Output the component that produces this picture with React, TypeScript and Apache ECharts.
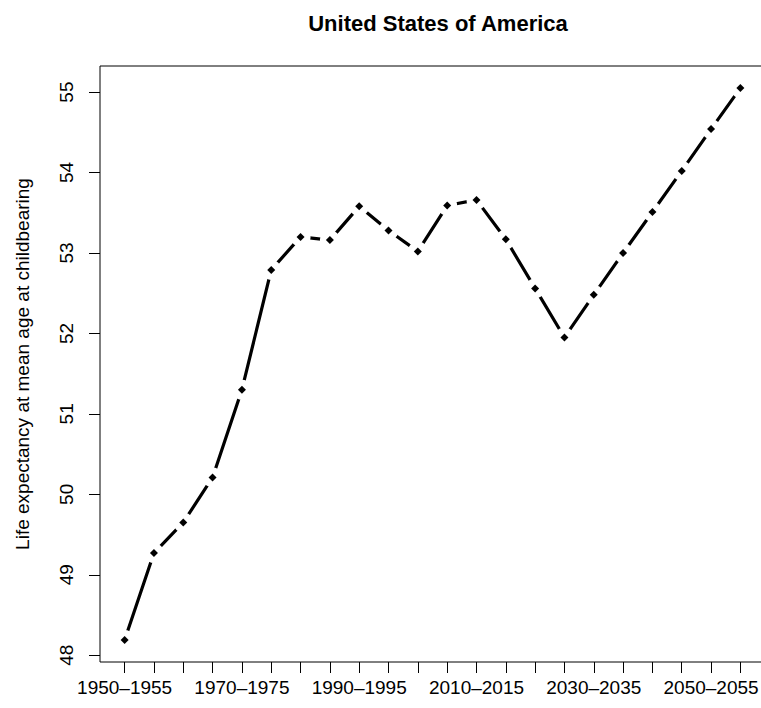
import React, { useEffect, useRef } from "react";
import * as echarts from "echarts";

const periods = [
  "1950–1955", "1955–1960", "1960–1965", "1965–1970", "1970–1975", "1975–1980",
  "1980–1985", "1985–1990", "1990–1995", "1995–2000", "2000–2005", "2005–2010",
  "2010–2015", "2015–2020", "2020–2025", "2025–2030", "2030–2035", "2035–2040",
  "2040–2045", "2045–2050", "2050–2055", "2055–2060",
];
const lifeExpectancy = [
  48.19, 49.27, 49.65, 50.21, 51.30, 52.79, 53.20, 53.16, 53.58, 53.28, 53.02,
  53.59, 53.66, 53.17, 52.56, 51.95, 52.48, 53.00, 53.51, 54.02, 54.54, 55.05,
];
const yTicks = [48, 49, 50, 51, 52, 53, 54, 55];
const xLabelIndices = [0, 4, 8, 12, 16, 20];

const FONT = "'Liberation Sans', Arial, Helvetica, sans-serif";

export default function App() {
  const ref = useRef<HTMLDivElement>(null);
  useEffect(() => {
    if (!ref.current) return;
    const chart = echarts.init(ref.current, null, { renderer: "svg" });
    const pts = lifeExpectancy.map((v, i) => [i + 1, v]);
    const n = periods.length;
    const pad = (n - 1) * 0.04;
    const yMinData = Math.min(...lifeExpectancy);
    const yMaxData = Math.max(...lifeExpectancy);
    const yPad = (yMaxData - yMinData) * 0.04;
    chart.setOption({
      animation: false,
      backgroundColor: "#ffffff",
      title: {
        text: "United States of America",
        left: 433,
        textAlign: "center",
        top: 7,
        textStyle: { fontFamily: FONT, fontSize: 22, fontWeight: "bold", color: "#000" },
      },
      grid: {
        left: 100,
        top: 66,
        right: 5,
        bottom: 46,
        show: true,
        borderColor: "#000",
        borderWidth: 1,
        backgroundColor: "transparent",
      },
      xAxis: {
        type: "value",
        min: 1 - pad,
        max: n + pad,
        splitLine: { show: false },
        axisLine: { show: false },
        axisTick: {
          show: true,
          length: 11,
          inside: false,
          lineStyle: { color: "#000", width: 1 },
          customValues: periods.map((_, i) => i + 1),
        },
        axisLabel: {
          show: true,
          margin: 16,
          fontFamily: FONT,
          fontSize: 19,
          color: "#000",
          customValues: xLabelIndices.map((i) => i + 1),
          formatter: (v: number) => periods[Math.round(v) - 1] ?? "",
        },
      },
      yAxis: {
        type: "value",
        min: yMinData - yPad,
        max: yMaxData + yPad,
        splitLine: { show: false },
        axisLine: { show: false },
        axisTick: {
          show: true,
          length: 11,
          lineStyle: { color: "#000", width: 1 },
          customValues: yTicks,
        },
        axisLabel: {
          show: true,
          rotate: 90,
          margin: 24,
          fontFamily: FONT,
          fontSize: 19,
          color: "#000",
          customValues: yTicks,
          formatter: (v: number) => String(Math.round(v)),
        },
        name: "Life expectancy at mean age at childbearing",
        nameLocation: "middle",
        nameRotate: 90,
        nameGap: 68,
        nameTextStyle: { fontFamily: FONT, fontSize: 19, color: "#000" },
      },
      series: [
        {
          type: "line",
          data: pts,
          showSymbol: false,
          symbol: "none",
          lineStyle: { color: "#000", width: 3.2 },
          z: 1,
        },
        {
          type: "scatter",
          data: pts,
          symbol: "circle",
          symbolSize: 20,
          itemStyle: { color: "#ffffff", opacity: 1 },
          emphasis: { disabled: true },
          z: 2,
        },
        {
          type: "scatter",
          data: pts,
          symbol: "diamond",
          symbolSize: 8,
          itemStyle: { color: "#000", opacity: 1 },
          emphasis: { disabled: true },
          z: 3,
        },
      ],
    });
    return () => chart.dispose();
  }, []);
  return (
    <div
      style={{ position: "fixed", left: 0, top: 0, width: 761, height: 708, overflow: "hidden", background: "#fff" }}
    >
      <div ref={ref} style={{ width: 770, height: 708 }} />
    </div>
  );
}
